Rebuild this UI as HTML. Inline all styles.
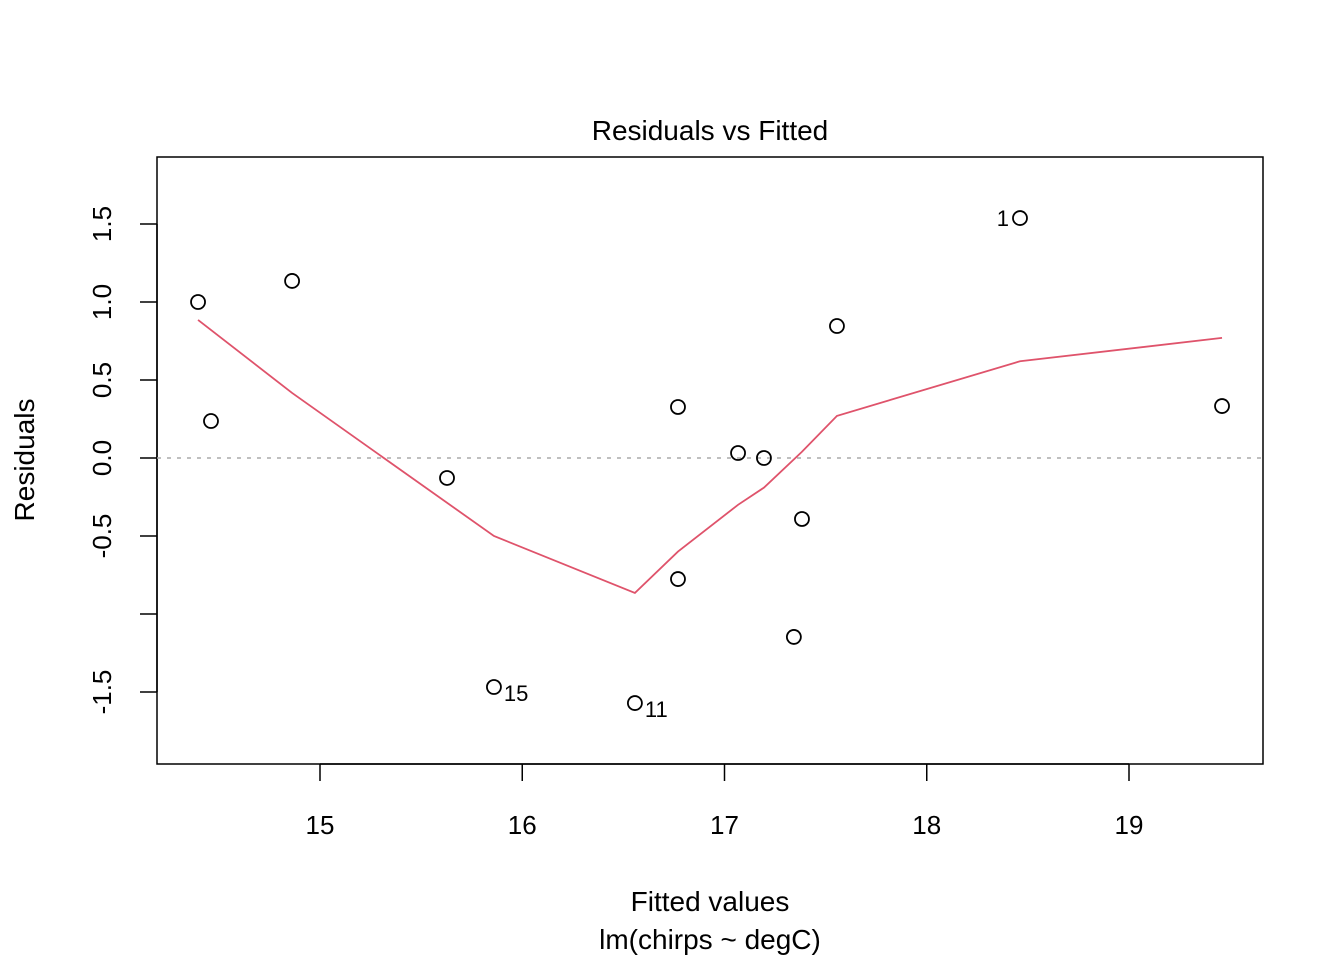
<!DOCTYPE html>
<html><head><meta charset="utf-8"><style>body{margin:0;background:#fff}svg{display:block}text{font-family:"Liberation Sans",Arial,sans-serif;fill:#000}</style></head>
<body>
<svg id="chart" width="1344" height="960" xmlns="http://www.w3.org/2000/svg">
<text x="710" y="140" font-size="28" text-anchor="middle">Residuals vs Fitted</text>
<rect x="157" y="157" width="1106" height="607" fill="none" stroke="#000" stroke-width="1.5"/>
<text x="710" y="911" font-size="28" text-anchor="middle">Fitted values</text>
<text x="710" y="949" font-size="28" text-anchor="middle">lm(chirps ~ degC)</text>
<text transform="translate(34,460) rotate(-90)" font-size="28" text-anchor="middle">Residuals</text>
<g id="axes"></g><g id="marks"></g>
</svg>
<script>
const fitted = [14.397,14.461,14.862,15.628,15.860,16.557,16.770,16.770,17.067,17.195,17.343,17.383,17.556,18.461,19.460];
const residuals = [1.0,0.237,1.135,-0.128,-1.468,-1.571,0.327,-0.776,0.032,0.0,-1.147,-0.391,0.846,1.538,0.333];
const smoothX = [14.397,14.862,15.860,16.557,16.770,17.067,17.195,17.383,17.556,18.461,19.460];
const smoothY = [0.885,0.417,-0.5,-0.865,-0.6,-0.3,-0.19,0.04,0.27,0.62,0.77];
const xTicks = [15,16,17,18,19];
const yTicks = [-1.5,-1.0,-0.5,0.0,0.5,1.0,1.5];
const yTickLabels = ["-1.5","","-0.5","0.0","0.5","1.0","1.5"];
const labelIdx = [13,4,5];
const labelText = ["1","15","11"];
const labelSide = ["left","right","right"];
const NS="http://www.w3.org/2000/svg";
const sx=v=>320+(v-15)*202.25, sy=v=>458-v*156;
const axes=document.getElementById('axes'), marks=document.getElementById('marks');
function mk(tag,attrs,parent){const e=document.createElementNS(NS,tag);for(const k in attrs)e.setAttribute(k,attrs[k]);parent.appendChild(e);return e;}
mk('line',{x1:sx(15),x2:sx(19),y1:764,y2:764,stroke:'#000','stroke-width':1.5},axes);
mk('line',{x1:157,x2:157,y1:sy(-1.5),y2:sy(1.5),stroke:'#000','stroke-width':1.5},axes);
xTicks.forEach(t=>{
 const l=mk('line',{x1:sx(t),x2:sx(t),y1:764,y2:781,stroke:'#000','stroke-width':1.5},axes);
 
 
 const tx=mk('text',{x:sx(t),y:834,'font-size':26,'text-anchor':'middle'},axes);tx.textContent=t;
 
 
});
yTicks.forEach((t,i)=>{
 const l=mk('line',{x1:140,x2:157,y1:sy(t),y2:sy(t),stroke:'#000','stroke-width':1.5},axes);
 
 
 if(yTickLabels[i]){const tx=mk('text',{transform:`translate(111,${sy(t)}) rotate(-90)`,'font-size':26,'text-anchor':'middle'},axes);tx.textContent=yTickLabels[i];
 
 }
});
const zl=mk('line',{x1:157,x2:1263,y1:sy(0),y2:sy(0),stroke:'#aaa','stroke-width':1.5,'stroke-dasharray':'4,6'},marks);


const sm=mk('polyline',{points:smoothX.map((x,i)=>sx(x)+','+sy(smoothY[i])).join(' '),fill:'none',stroke:'#DF536B','stroke-width':1.8},marks);


fitted.forEach((x,i)=>{
 const c=mk('circle',{cx:sx(x),cy:sy(residuals[i]),r:7,fill:'none',stroke:'#000','stroke-width':1.8},marks);
 
 
});
labelIdx.forEach((idx,j)=>{
 const left=labelSide[j]==='left';
 const tx=mk('text',{x:sx(fitted[idx])+(left?-11:10),y:sy(residuals[idx])+(left?8:14),'font-size':22,'text-anchor':left?'end':'start'},marks);
 tx.textContent=labelText[j];
 
 
});
</script>
</body></html>
